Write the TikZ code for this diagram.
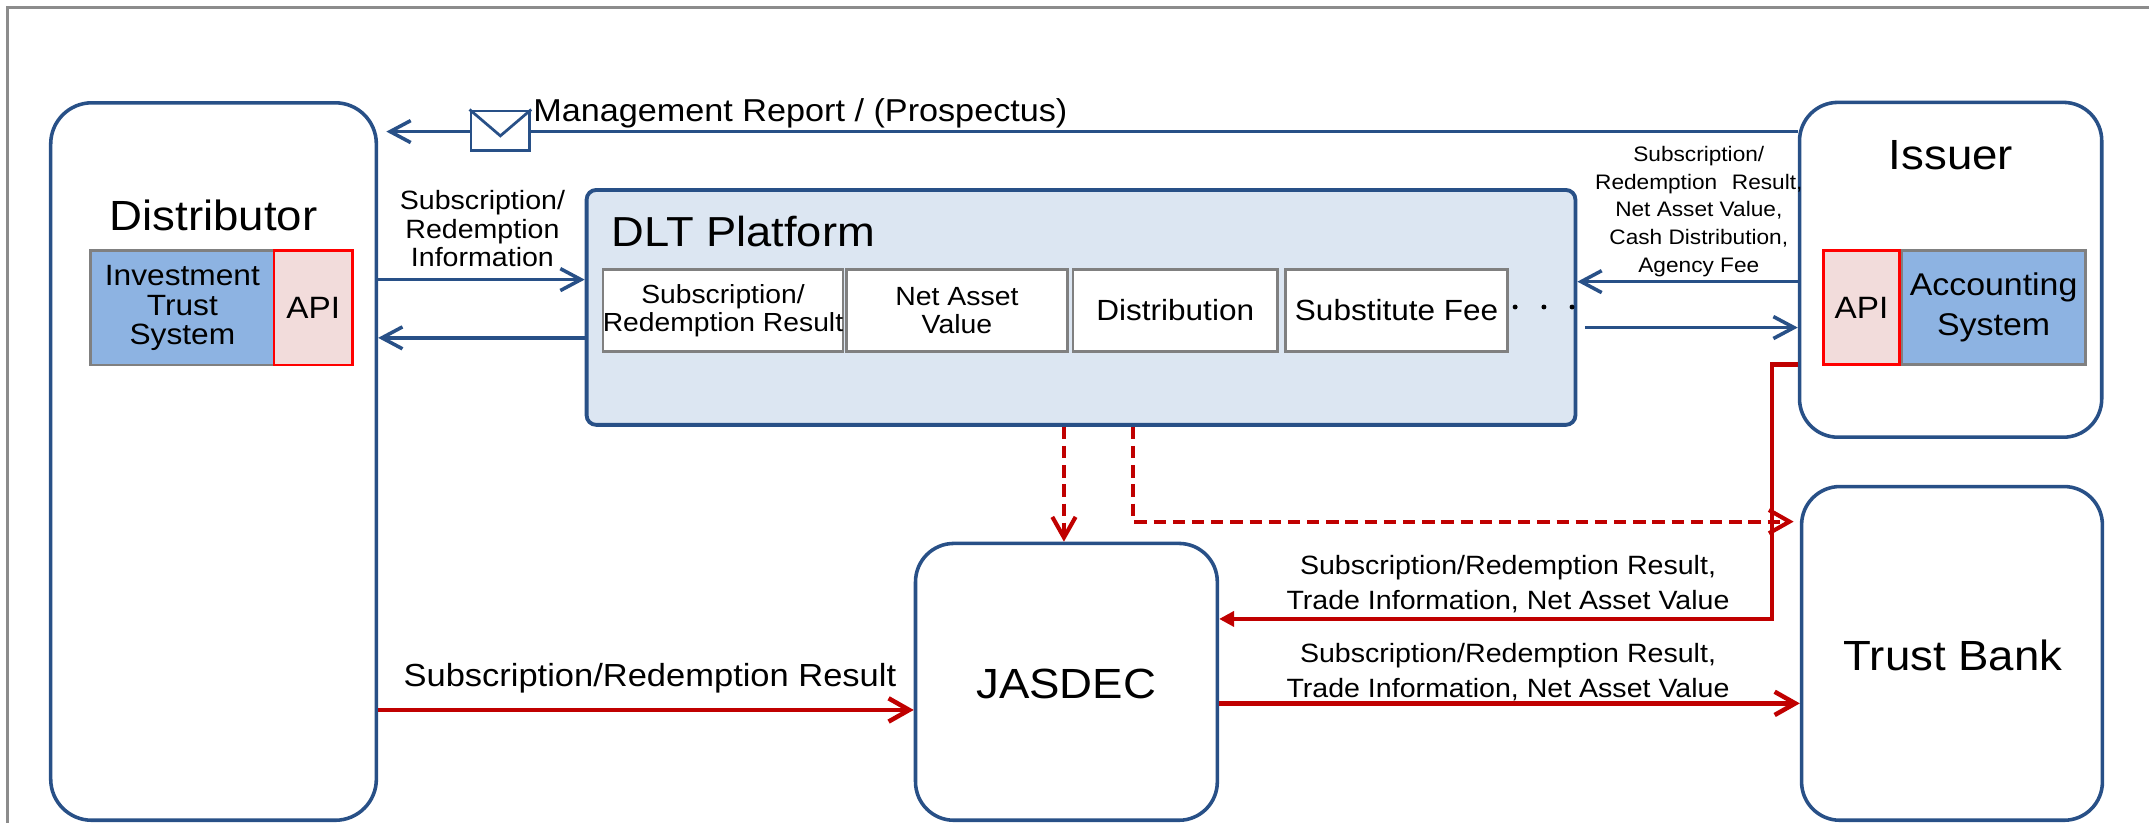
\documentclass[tikz,border=0pt]{standalone}
\usepackage{fontspec}
\setmainfont{Liberation Sans}[FakeStretch=1.08]
\usetikzlibrary{arrows.meta,calc}
\definecolor{bblue}{RGB}{40,80,135}
\definecolor{dltfill}{HTML}{DCE6F2}
\definecolor{sysfill}{HTML}{8DB3E2}
\definecolor{apifill}{HTML}{F2DCDB}
\definecolor{dred}{HTML}{C00000}
\definecolor{framegray}{HTML}{8C8C8C}
\definecolor{boxgray}{HTML}{808080}
\newcommand{\myfs}[2]{\fontsize{#1}{#2}\selectfont}
\begin{document}
\begin{tikzpicture}[x=1pt,y=-1pt,
  party/.style={draw=bblue, line width=2.6pt, rounded corners=28pt, fill=white, inner sep=0pt},
  dltbox/.style={draw=bblue, line width=2.8pt, rounded corners=7pt, fill=dltfill, inner sep=0pt},
  inbox/.style={draw=boxgray, line width=1.8pt, fill=white, inner sep=0pt, minimum height=60.1pt, align=center},
  sysbox/.style={draw=boxgray, line width=2pt, fill=sysfill, inner sep=0pt, align=center},
  apibox/.style={draw=red, line width=2pt, fill=apifill, inner sep=0pt, align=center},
  title/.style={font=\myfs{30.8}{37}, anchor=base, inner sep=0pt},
  barrow/.style={draw=bblue, line width=2.6pt, -{Straight Barb[length=15pt,width=16pt]}},
  rarrow/.style={draw=dred, line width=3.3pt, -{Straight Barb[length=15pt,width=17pt]}},
  rdash/.style={draw=dred, line width=3pt, dash pattern=on 9pt off 5pt, -{Straight Barb[length=15pt,width=17pt]}},
  rsolid/.style={draw=dred, line width=3.3pt, -{Triangle[length=11pt,width=11pt]}},
  lbl/.style={inner sep=0pt, align=center}
]
\useasboundingbox (0,0) rectangle (1568,600);
% outer frame
\draw[framegray, line width=2.5pt] (5.5,605) -- (5.5,5.5) -- (1575,5.5);

% parties
\node[party, rounded corners=30pt, minimum width=237.6pt, minimum height=523.5pt] (dist) at (155.8,336.75) {};
\node[party, minimum width=220.5pt, minimum height=244.3pt] (issuer) at (1423.25,196.85) {};
\node[party, minimum width=219.5pt, minimum height=243.5pt] (trust) at (1424.25,476.75) {};
\node[party, minimum width=220.2pt, minimum height=202pt] (jasdec) at (778.1,497.5) {};

% DLT platform
\node[dltbox, minimum width=721.5pt, minimum height=171.4pt] (dlt) at (788.75,224.3) {};
\node[font=\myfs{30.6}{37}, anchor=base west, inner sep=0pt] (dltlbl) at (446,180) {DLT Platform};
\node[inbox, minimum width=173pt, font=\myfs{19.1}{20.3}] (b1) at (527.5,226.55) {Subscription/\\Redemption Result};
\node[inbox, minimum width=161.5pt, font=\myfs{19.2}{20.3}] (b2) at (698.25,226.55) {Net Asset\\Value};
\node[inbox, minimum width=149pt, font=\myfs{21.3}{24}] (b3) at (857.5,226.55) {Distribution};
\node[inbox, minimum width=162pt, font=\myfs{21.3}{24}] (b4) at (1019,226.55) {Substitute Fee};
\fill (1105.5,224) circle (1.8pt);
\fill (1126.5,224) circle (1.8pt);
\fill (1147,224) circle (1.8pt);

% titles
\node[title] (distlbl) at (155.8,168) {Distributor};
\node[title] (isslbl) at (1423.5,124) {Issuer};
\node[title] (trustlbl) at (1425,489) {Trust Bank};
\node[title] (jaslbl) at (778,509.6) {JASDEC};

% systems
\node[sysbox, minimum width=133.9pt, minimum height=83.4pt, font=\myfs{21.4}{21.5}] (its) at (133.05,224.7) {Investment\\Trust\\System};
\node[apibox, minimum width=57pt, minimum height=83.4pt, font=\myfs{22.5}{26}] (apil) at (228.5,224.7) {API};
\node[sysbox, minimum width=134pt, minimum height=83pt, font=\myfs{22.9}{29}] (acc) at (1454.6,224.4) {Accounting\\System};
\node[apibox, minimum width=55pt, minimum height=83pt, font=\myfs{22.5}{26}] (apir) at (1358.25,224.4) {API};

% level helpers
\coordinate (yM) at (0,96);
\coordinate (yA) at (0,204);
\coordinate (yB) at (0,246.5);
\coordinate (yC) at (0,205.5);
\coordinate (yD) at (0,239);
\coordinate (yE) at (0,266);
\coordinate (yF) at (0,451.6);
\coordinate (yG) at (0,380.6);
\coordinate (yH) at (0,518);
\coordinate (yI) at (0,513.2);
\coordinate (xR) at (1293,0);
\coordinate (xD1) at (776.3,0);
\coordinate (xD2) at (826.9,0);

% blue connectors
\draw[barrow, shorten >=6pt] (issuer.west |- yM) -- (dist.east |- yM);
\node[draw=bblue, fill=white, line width=2pt, minimum width=43pt, minimum height=29pt, inner sep=0pt] (env) at (365.1,95.4) {};
\draw[bblue, line width=2pt, line join=miter] (env.north west) -- ($(env.north)!0.62!(env.south)$) -- (env.north east);
\node[font=\myfs{23.1}{28}, anchor=base west, inner sep=0pt] (mgmt) at (389,89) {Management Report / (Prospectus)};

\draw[barrow] (dist.east |- yA) -- (dlt.west |- yA);
\draw[barrow] (dlt.west |- yB) -- (dist.east |- yB);
\node[lbl, font=\myfs{19.3}{20.6}] (l1) at (352,166.9) {Subscription/\\Redemption\\Information};

\draw[barrow] (issuer.west |- yC) -- (dlt.east |- yC);
\draw[barrow, shorten <=5.5pt] (dlt.east |- yD) -- (issuer.west |- yD);
\node[lbl, font=\myfs{15.3}{20.2}] (l2) at (1239.5,154.3) {Subscription/\\Redemption\hspace{0.4em} Result,\\Net Asset Value,\\Cash Distribution,\\Agency Fee};

% red connectors
\draw[rdash] (dlt.south -| xD1) -- (jasdec.north -| xD1);
\draw[rdash, shorten >=4.5pt] (dlt.south -| xD2) |- (trust.west |- yG);
\draw[rsolid] (issuer.west |- yE) -| (xR |- yF) -- (jasdec.east |- yF);
\node[lbl, font=\myfs{19.3}{25.5}] (l4) at (1100.3,426.1) {Subscription/Redemption Result,\\Trade Information, Net Asset Value};

\draw[rarrow] (dist.east |- yH) -- (jasdec.west |- yH);
\node[font=\myfs{23.3}{28}, anchor=base, inner sep=0pt] (l3) at (474.2,501) {Subscription/Redemption Result};

\draw[rarrow] (jasdec.east |- yI) -- (trust.west |- yI);
\node[lbl, font=\myfs{19.3}{25.5}] (l5) at (1100.3,490.3) {Subscription/Redemption Result,\\Trade Information, Net Asset Value};
\end{tikzpicture}
\end{document}
